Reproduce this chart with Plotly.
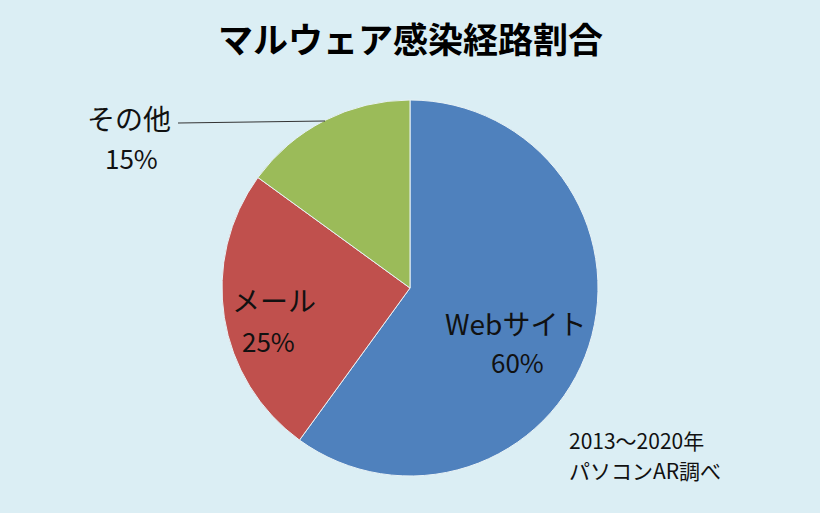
import plotly.graph_objects as go

categories = ["Webサイト", "メール", "その他"]
values = [60, 25, 15]
colors = ["#4F81BD", "#C0504D", "#9BBB59"]
title_text = "マルウェア感染経路割合"
source_lines = ["2013～2020年", "パソコンAR調べ"]

W, H = 820, 513
cx, cy, r = 410, 288, 188

fig = go.Figure()
fig.add_trace(go.Pie(
    labels=categories, values=values, sort=False, direction="clockwise",
    rotation=0, marker=dict(colors=colors, line=dict(color="#E8F2F6", width=1)),
    textinfo="none", hoverinfo="label+percent", showlegend=False,
    domain=dict(x=[(cx - r) / W, (cx + r) / W], y=[1 - (cy + r) / H, 1 - (cy - r) / H]),
))

font = "Noto Sans CJK JP, sans-serif"
# label positions (pixels) per category: (name x,y), (pct x,y)
label_pos = [((515, 323), (517, 361)), ((274, 300), (268, 340)), ((129, 118), (131, 157))]
for name, val, (npos, ppos) in zip(categories, values, label_pos):
    fig.add_annotation(x=npos[0] / W, y=1 - npos[1] / H, xref="paper", yref="paper",
                       text=name, showarrow=False, font=dict(family=font, size=28, color="#111"),
                       xanchor="center", yanchor="middle")
    fig.add_annotation(x=ppos[0] / W, y=1 - ppos[1] / H, xref="paper", yref="paper",
                       text=f"{val}%", showarrow=False, font=dict(family=font, size=26, color="#111"),
                       xanchor="center", yanchor="middle")

fig.add_shape(type="line", xref="paper", yref="paper",
              x0=178 / W, y0=1 - 123 / H, x1=325 / W, y1=1 - 121 / H,
              line=dict(color="#333", width=1))

fig.add_annotation(x=410 / W, y=1 - 37 / H, xref="paper", yref="paper",
                   text=f"<b>{title_text}</b>", showarrow=False,
                   font=dict(family=font, size=35, color="#000"),
                   xanchor="center", yanchor="middle")

for i, line in enumerate(source_lines):
    fig.add_annotation(x=567 / W, y=1 - (440 + 30 * i) / H, xref="paper", yref="paper",
                       text=line, showarrow=False, font=dict(family=font, size=21, color="#111"),
                       xanchor="left", yanchor="middle")

fig.update_layout(width=W, height=H, margin=dict(l=0, r=0, t=0, b=0),
                  paper_bgcolor="#DBEEF4", plot_bgcolor="#DBEEF4")
fig.write_html("out.html")
